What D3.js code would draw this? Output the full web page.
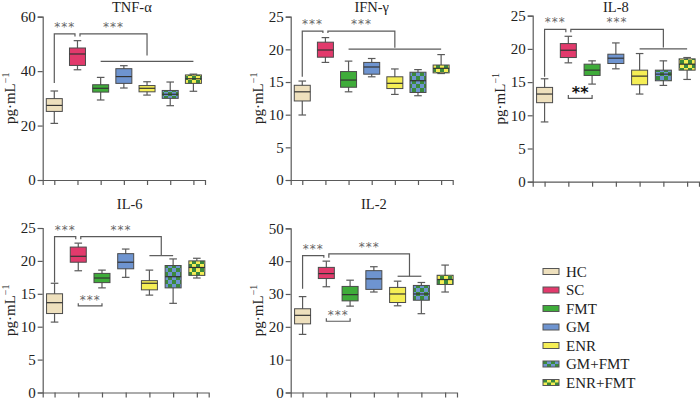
<!DOCTYPE html>
<html>
<head>
<meta charset="utf-8">
<script src="https://cdn.jsdelivr.net/npm/d3@7"></script>
<style>
  body { margin: 0; background: #fff; }
  svg { display: block; font-family: "Liberation Serif", "DejaVu Serif", serif; }
</style>
</head>
<body>
<div id="chart"></div>
<script>
'use strict';

var groups = ["HC", "SC", "FMT", "GM", "ENR", "GM+FMT", "ENR+FMT"];

// each entry: [min, q1, median, q3, max]
var tnfAlpha = [[20.8,25.2,27.4,29.9,32.7],[40.5,42.1,46.3,48.5,51.2],[29.4,32.3,33.7,35.0,37.7],
    [33.8,35.5,38.0,40.9,42.0],[31.2,32.4,33.7,34.7,36.1],[27.3,30.0,31.5,32.9,36.0],[32.6,35.5,37.2,38.6,38.9]];
var ifnGamma = [[9.95,12.1,13.5,14.5,15.15],[18.0,18.8,19.9,21.1,21.8],[13.5,14.2,15.3,16.6,18.2],
    [15.8,16.2,17.3,18.0,18.6],[13.1,14.0,14.8,15.8,17.0],[12.9,13.4,15.2,16.5,16.9],[16.3,16.4,17.1,17.6,19.2]];
var il8 = [[9.0,11.9,13.2,14.2,15.5],[17.9,18.7,19.8,20.8,21.9],[14.7,16.0,16.8,17.7,18.2],
    [17.0,17.8,18.6,19.2,20.9],[13.2,14.6,15.9,16.8,19.3],[14.5,15.2,16.2,16.8,18.2],[15.4,16.8,17.7,18.5,18.7]];
var il6 = [[10.7,12.0,13.65,15.0,16.6],[18.5,19.8,20.7,22.1,22.7],[15.9,16.7,17.4,18.1,18.6],
    [17.5,18.8,19.8,21.1,21.8],[14.8,15.6,16.6,17.0,18.6],[13.55,15.9,17.6,19.3,20.3],[17.4,17.8,19.0,20.0,20.4]];
var il2 = [[17.7,20.9,23.5,25.5,29.2],[32.2,34.7,36.2,38.1,40.0],[26.3,27.9,29.8,32.3,34.2],
    [30.6,31.4,34.6,37.1,38.3],[26.4,27.4,30.0,32.0,33.9],[24.0,28.1,30.0,32.6,33.5],[30.6,32.9,34.4,35.7,38.8]];

var ticks60 = [0, 20, 40, 60];
var ticks25 = [0, 5, 10, 15, 20, 25];
var ticks50 = [0, 10, 20, 30, 40, 50];

// significance marks, levels in data units
var tnfSig = [
    {type: "pair", a: 0, b: 1, level: 53.7, legA: 35.6, legB: 52.7, label: "***"},
    {type: "group", a: 1, from: 2, to: 6, level: 53.7, legA: 52.7, drop: 45.7, span: 43.6, label: "***"}
];
var ifnSig = [
    {type: "pair", a: 0, b: 1, level: 22.8, legA: 15.8, legB: 22.5, label: "***"},
    {type: "group", a: 1, from: 2, to: 6, level: 22.8, legA: 22.5, drop: 20.25, span: 20.05, label: "***"}
];
var il8Sig = [
    {type: "pair", a: 0, b: 1, level: 22.95, legA: 15.8, legB: 22.5, label: "***"},
    {type: "group", a: 1, from: 4, to: 6, level: 22.95, legA: 22.5, drop: 20.2, span: 20.0, label: "***"},
    {type: "below", a: 1, b: 2, level: 12.56, leg: 13.06, label: "**", bold: true}
];
var il6Sig = [
    {type: "pair", a: 0, b: 1, level: 23.7, legA: 16.7, legB: 23.3, label: "***"},
    {type: "group", a: 1, from: 4, to: 5, level: 23.7, legA: 23.3, drop: 20.9, span: 20.8, label: "***"},
    {type: "below", a: 1, b: 2, level: 13.15, leg: 13.55, label: "***"}
];
var il2Sig = [
    {type: "pair", a: 0, b: 1, level: 41.7, legA: 31.6, legB: 41.0, label: "***"},
    {type: "group", a: 1, from: 4, to: 5, level: 42.2, legA: 41.0, drop: 35.4, span: 35.4, label: "***"},
    {type: "below", a: 1, b: 2, level: 21.7, leg: 22.6, label: "***"}
];

var fills = ["#eee0bd", "#e23a6c", "#3fac3a", "#6e94d0", "#f5ee55", "url(#chkGM)", "url(#chkENR)"];
var lineColor = "#5a5a5a";

function boxPanel() {
    var layout = {};

    function display(selection) {
        selection.each(function(p) {
            var g = d3.select(this);
            var x = d3.scalePoint().domain(d3.range(groups.length))
                .range([layout.left, layout.right]).padding(0.5);
            var y = d3.scaleLinear().domain([0, p.ticks[p.ticks.length - 1]])
                .range([layout.bottom, layout.top]);

            var yAxis = g.append("g")
                .attr("transform", "translate(" + layout.left + ",0)")
                .call(d3.axisLeft(y).tickValues(p.ticks).tickSize(5).tickPadding(2));
            var xAxis = g.append("g")
                .attr("transform", "translate(0," + layout.bottom + ")")
                .call(d3.axisBottom(x).tickSize(5).tickFormat(""));
            [yAxis, xAxis].forEach(function(ax) {
                ax.select(".domain").attr("stroke", lineColor).attr("stroke-width", 1.2);
                ax.selectAll(".tick line").attr("stroke", lineColor).attr("stroke-width", 1.2);
            });
            yAxis.selectAll(".tick text")
                .attr("font-family", "Liberation Serif, serif")
                .attr("font-size", 15).attr("fill", "#222");

            g.append("text")
                .attr("x", (layout.left + layout.right) / 2 + (layout.titleDx || 0))
                .attr("y", layout.titleY)
                .attr("text-anchor", "middle")
                .attr("font-size", 14.5).attr("fill", "#222")
                .text(p.title);

            g.append("text")
                .attr("transform", "translate(" + (layout.left - 28) + "," + ((layout.top + layout.bottom) / 2) + ") rotate(-90)")
                .attr("text-anchor", "middle")
                .attr("font-size", 15).attr("fill", "#222")
                .text("pg\u00b7mL")
                .append("tspan").attr("dy", -6).attr("font-size", 10).text("\u22121");

            var half = 8, cap = 3.8;
            var boxes = g.selectAll(".box")
                .data(p.values)
                .enter().append("g")
                .attr("class", "box");

            boxes.append("line")
                .attr("x1", function(d, i) { return x(i); })
                .attr("x2", function(d, i) { return x(i); })
                .attr("y1", function(d) { return y(d[0]); })
                .attr("y2", function(d) { return y(d[4]); })
                .attr("stroke", lineColor).attr("stroke-width", 1.2);
            [0, 4].forEach(function(k) {
                boxes.append("line")
                    .attr("x1", function(d, i) { return x(i) - cap; })
                    .attr("x2", function(d, i) { return x(i) + cap; })
                    .attr("y1", function(d) { return y(d[k]); })
                    .attr("y2", function(d) { return y(d[k]); })
                    .attr("stroke", lineColor).attr("stroke-width", 1.2);
            });
            boxes.append("rect")
                .attr("x", function(d, i) { return x(i) - half; })
                .attr("width", half * 2)
                .attr("y", function(d) { return y(d[3]); })
                .attr("height", function(d) { return y(d[1]) - y(d[3]); })
                .attr("fill", function(d, i) { return fills[i]; })
                .attr("stroke", "#4a4a4a").attr("stroke-width", 1);
            boxes.append("line")
                .attr("x1", function(d, i) { return x(i) - half; })
                .attr("x2", function(d, i) { return x(i) + half; })
                .attr("y1", function(d) { return y(d[2]); })
                .attr("y2", function(d) { return y(d[2]); })
                .attr("stroke", "#333").attr("stroke-width", 1.2);

            // significance brackets
            var sg = g.append("g").attr("fill", "none").attr("stroke", lineColor).attr("stroke-width", 1.2);
            var gap = 2.5;
            p.sig.forEach(function(s) {
                var pts, lx, ly;
                if (s.type === "pair") {
                    pts = [[x(s.a), y(s.legA)], [x(s.a), y(s.level)], [x(s.b) - gap, y(s.level)], [x(s.b) - gap, y(s.legB)]];
                    sg.append("path").attr("d", d3.line()(pts));
                    lx = (x(s.a) + x(s.b) - gap) / 2; ly = y(s.level) - 3;
                } else if (s.type === "group") {
                    var mid = (x(s.from) + x(s.to)) / 2;
                    pts = [[x(s.a) + gap, y(s.legA)], [x(s.a) + gap, y(s.level)], [mid, y(s.level)], [mid, y(s.drop)]];
                    sg.append("path").attr("d", d3.line()(pts));
                    sg.append("path").attr("d", d3.line()([[x(s.from), y(s.span)], [x(s.to), y(s.span)]]));
                    lx = (x(s.a) + gap + mid) / 2; ly = y(s.level) - 3;
                } else {
                    pts = [[x(s.a), y(s.leg)], [x(s.a), y(s.level)], [x(s.b), y(s.level)], [x(s.b), y(s.leg)]];
                    sg.append("path").attr("d", d3.line()(pts));
                    lx = (x(s.a) + x(s.b)) / 2; ly = y(s.leg) + (s.bold ? 3.5 : 0.5);
                }
                g.append("text")
                    .attr("x", lx).attr("y", ly)
                    .attr("text-anchor", "middle")
                    .attr("font-family", "DejaVu Sans, sans-serif")
                    .attr("font-size", s.bold ? 16 : 12)
                    .attr("font-weight", s.bold ? "bold" : "normal")
                    .attr("letter-spacing", s.bold ? 0 : 1)
                    .attr("fill", s.bold ? "#111" : "#666")
                    .text(s.label);
            });
        });
    }

    display.layout = function(value) {
        if (!arguments.length) return layout;
        layout = value;
        return display;
    };

    return display;
}

function legend() {
    function display(selection) {
        selection.each(function() {
            var rows = d3.select(this).selectAll("g")
                .data(groups)
                .enter().append("g")
                .attr("transform", function(d, i) { return "translate(543," + (271.5 + i * 18.5) + ")"; });
            rows.append("rect")
                .attr("x", 0).attr("y", -3).attr("width", 16).attr("height", 6)
                .attr("fill", function(d, i) { return fills[i]; })
                .attr("stroke", "#555").attr("stroke-width", 1);
            rows.append("text")
                .attr("x", 23).attr("y", 5)
                .attr("font-size", 15).attr("fill", "#222")
                .text(function(d) { return d; });
        });
    }
    return display;
}

var svg = d3.select("#chart").append("svg")
    .attr("width", 700).attr("height", 400);

var defs = svg.append("defs");
[["chkGM", "#6e94d0"], ["chkENR", "#f5ee55"]].forEach(function(c) {
    var pat = defs.append("pattern")
        .attr("id", c[0]).attr("patternUnits", "userSpaceOnUse")
        .attr("width", 8).attr("height", 8);
    pat.append("rect").attr("width", 8).attr("height", 8).attr("fill", "#3b8a3c");
    pat.append("rect").attr("width", 4).attr("height", 4).attr("fill", c[1]);
    pat.append("rect").attr("x", 4).attr("y", 4).attr("width", 4).attr("height", 4).attr("fill", c[1]);
});

var panels = [
    {title: "TNF-\u03b1", values: tnfAlpha, ticks: ticks60, sig: tnfSig,
        layout: {left: 42.7, right: 205, top: 16.7, bottom: 180, titleDx: 8, titleY: 12}},
    {title: "IFN-\u03b3", values: ifnGamma, ticks: ticks25, sig: ifnSig,
        layout: {left: 290.7, right: 452.7, top: 16.7, bottom: 180, titleY: 12}},
    {title: "IL-8", values: il8, ticks: ticks25, sig: il8Sig,
        layout: {left: 532.7, right: 699, top: 15.7, bottom: 181.7, titleY: 12}},
    {title: "IL-6", values: il6, ticks: ticks25, sig: il6Sig,
        layout: {left: 42.7, right: 208.7, top: 228, bottom: 392.5, titleDx: 4, titleY: 209}},
    {title: "IL-2", values: il2, ticks: ticks50, sig: il2Sig,
        layout: {left: 290.7, right: 457, top: 228.3, bottom: 392.5, titleY: 209}}
];

panels.forEach(function(p) {
    svg.append("g").datum(p).call(boxPanel().layout(p.layout));
});

svg.append("g").call(legend());
</script>
</body>
</html>
